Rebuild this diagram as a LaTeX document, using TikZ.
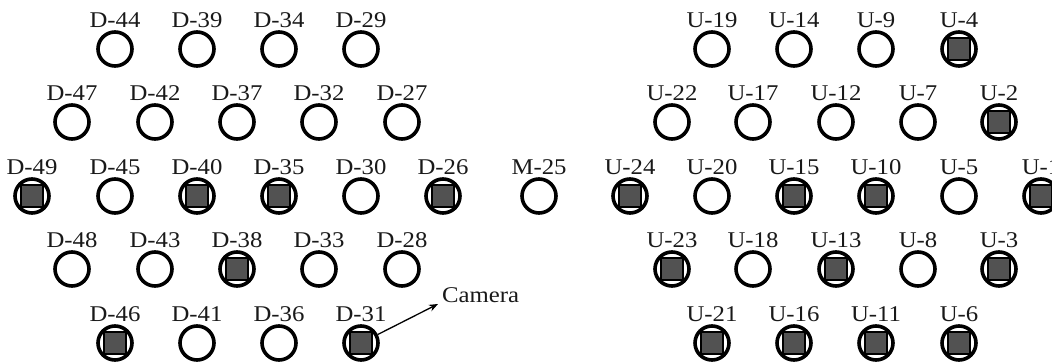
\documentclass[tikz,border=0pt]{standalone}
\usepackage{fontspec}
\setmainfont{Liberation Serif}[FakeStretch=1.1]
\usetikzlibrary{arrows.meta}
\tikzset{
  hole/.style={circle,draw=black,line width=3.6pt,minimum size=34pt,inner sep=0pt},
  camsq/.style={rectangle,draw=black,fill=black!68,line width=1.9pt,minimum size=22.5pt,inner sep=0pt},
  lbl/.style={anchor=base,font=\fontsize{22.5}{22.5}\selectfont,text=black!90,inner sep=0pt},
  conn/.style={line width=1.3pt,-{Stealth[length=9pt,width=7pt]}}
}
\begin{document}
\begin{tikzpicture}[x=1pt,y=-1pt]
\clip (0,0) rectangle (1052,363);
\fill[white] (0,0) rectangle (1052,363);
\foreach \n/\x/\y/\t/\f in {
  D44/115/49/D-44/0, D39/197/49/D-39/0, D34/279/49/D-34/0, D29/361/49/D-29/0,
  D47/72/122/D-47/0, D42/155/122/D-42/0, D37/237/122/D-37/0, D32/319/122/D-32/0, D27/402/122/D-27/0,
  D49/32/196/D-49/1, D45/115/196/D-45/0, D40/197/196/D-40/1, D35/279/196/D-35/1, D30/361/196/D-30/0, D26/443/196/D-26/1,
  M25/539/196/M-25/0,
  D48/72/269/D-48/0, D43/155/269/D-43/0, D38/237/269/D-38/1, D33/319/269/D-33/0, D28/402/269/D-28/0,
  D46/115/343/D-46/1, D41/197/343/D-41/0, D36/279/343/D-36/0, D31/361/343/D-31/1,
  U19/712/49/U-19/0, U14/794/49/U-14/0, U9/876/49/U-9/0, U4/959/49/U-4/1,
  U22/672/122/U-22/0, U17/753/122/U-17/0, U12/836/122/U-12/0, U7/918/122/U-7/0, U2/999/122/U-2/1,
  U24/630/196/U-24/1, U20/712/196/U-20/0, U15/794/196/U-15/1, U10/876/196/U-10/1, U5/959/196/U-5/0, U1/1041/196/U-1/1,
  U23/672/269/U-23/1, U18/753/269/U-18/0, U13/836/269/U-13/1, U8/918/269/U-8/0, U3/999/269/U-3/1,
  U21/712/343/U-21/1, U16/794/343/U-16/1, U11/876/343/U-11/1, U6/959/343/U-6/1}
{
  \node[hole] (\n) at (\x,\y) {};
  \node[lbl] (\n l) at (\x,\y-21) {\t};
  \ifnum\f=1 \node[camsq] (\n s) at (\x,\y) {};\fi
}
\node[lbl,anchor=base west] (camlbl) at (442,303) {Camera};
\coordinate (camtip) at (438,304);
\draw[conn] (D31) -- (camtip);
\end{tikzpicture}
\end{document}
